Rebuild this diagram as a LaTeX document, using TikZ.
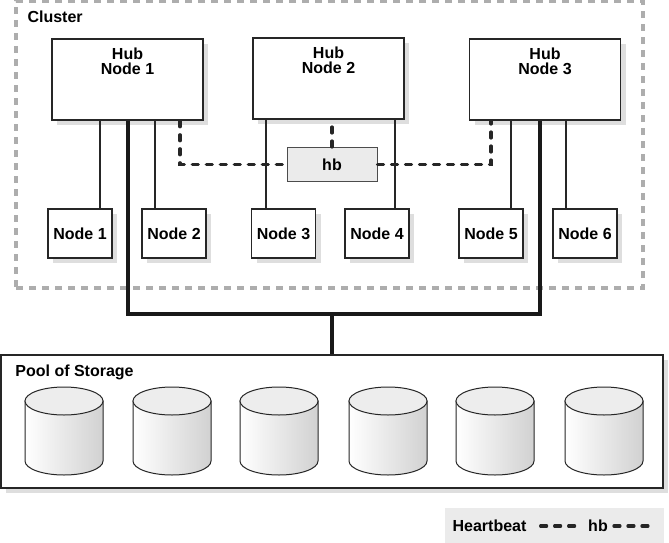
\documentclass[tikz,border=0pt]{standalone}
\usepackage{fontspec}
\setmainfont{Liberation Sans}
\usepackage{tikz}
\usetikzlibrary{arrows.meta,positioning,shadows}

\begin{document}
\begin{tikzpicture}[x=1pt,y=-1pt,inner sep=0pt]
  \useasboundingbox(0,0)rectangle(669,543);
  \fontsize{16}{15}\selectfont\bfseries
  \tikzstyle{shd}=[general shadow={fill=black!13,shadow xshift=5pt,shadow yshift=-5pt}]
  \tikzstyle{hub}=[rectangle,draw=black!85,line width=1.6pt,fill=white,shd,minimum width=151pt,minimum height=81pt]
  \tikzstyle{leaf}=[rectangle,draw=black!85,line width=1.6pt,fill=white,shd,minimum width=64pt,minimum height=49pt]
  \tikzstyle{disk}=[draw=black!85,line width=1pt,left color=white,right color=black!18]
  \tikzstyle{disktop}=[draw=black!85,line width=1pt,fill=black!7]
  \tikzstyle{hbline}=[draw=black!85,line width=3.2pt,dash pattern=on 6pt off 8pt,line cap=round]
  % cluster and storage
  \node[rectangle,draw=black!32,line width=3.4pt,dash pattern=on 7pt off 6pt,minimum width=627pt,minimum height=287pt](cl)at(329.5,144.5){};
  \node[anchor=north west](cllab)at([xshift=13pt,yshift=-11pt]cl.north west){Cluster};
  \node[rectangle,draw=black!85,line width=1.6pt,fill=white,shd,minimum width=662pt,minimum height=133pt](pool)at(332,421.5){};
  \node[anchor=north west](poollab)at([xshift=15pt,yshift=-11pt]pool.north west){Pool of Storage};
  \foreach\x in{64,172,279,388,495,604}{
    \draw[disk](\x-39,401)--(\x-39,461)arc(180:360:39pt and 14pt)--(\x+39,401)--cycle;
    \draw[disktop](\x,401)ellipse(39pt and 14pt);}
  % hub nodes
  \node[hub](h1)at(127.5,79.5){};
  \node[hub](h2)at(328.5,78.5){};
  \node[hub](h3)at(545,79.5){};
  \foreach\h/\t in{h1/1,h2/2,h3/3}{\node[anchor=north,align=center](\h lab)at([yshift=-10pt]\h.north){Hub\\Node \t};}
  \node[rectangle,draw=black!70,line width=1pt,fill=black!8,minimum width=90pt,minimum height=34pt](hb)at(332,164.5){hb};
  % leaf nodes
  \foreach\n/\x in{1/80,2/174,3/283.5,4/377,5/491,6/585}{\node[leaf](n\n)at(\x,233.5){Node \n};}
  \foreach\n/\h/\dx in{n1/h1/20pt,n2/h1/-19pt,n3/h2/-17.5pt,n4/h2/18pt,n5/h3/20pt,n6/h3/-19pt}{\draw[draw=black!85,line width=1.5pt]([xshift=\dx]\n.north)--([xshift=\dx]\n.north|-\h.south);}
  % heartbeat
  \draw[hbline]([xshift=52.5pt]h1.south)|-(hb.west);
  \draw[hbline](hb.north)--(hb.north|-h2.south);
  \draw[hbline](hb.east)-|([xshift=-54pt]h3.south);
  % storage trunk
  \coordinate(bus)at(pool.north|-0,314);
  \tikzstyle{trunk}=[draw=black!90,line width=4pt]
  \draw[trunk](h1.south)|-(bus)-|([xshift=-5pt]h3.south);
  \draw[trunk](bus)--(pool.north);
  % legend
  \node[rectangle,fill=black!8,minimum width=219pt,minimum height=35pt](lgd)at(554,525.5){};
  \node[anchor=base](lgtxt)at(489.5,531){Heartbeat};
  \node[anchor=base](lghb)at(598,531){hb};
  \coordinate(lgend)at(648,526);
  \draw[hbline]([xshift=14pt]lgtxt.east|-lgend)--([xshift=-6pt]lghb.west|-lgend);
  \draw[hbline]([xshift=6pt]lghb.east|-lgend)--(lgend);
\end{tikzpicture}
\end{document}
